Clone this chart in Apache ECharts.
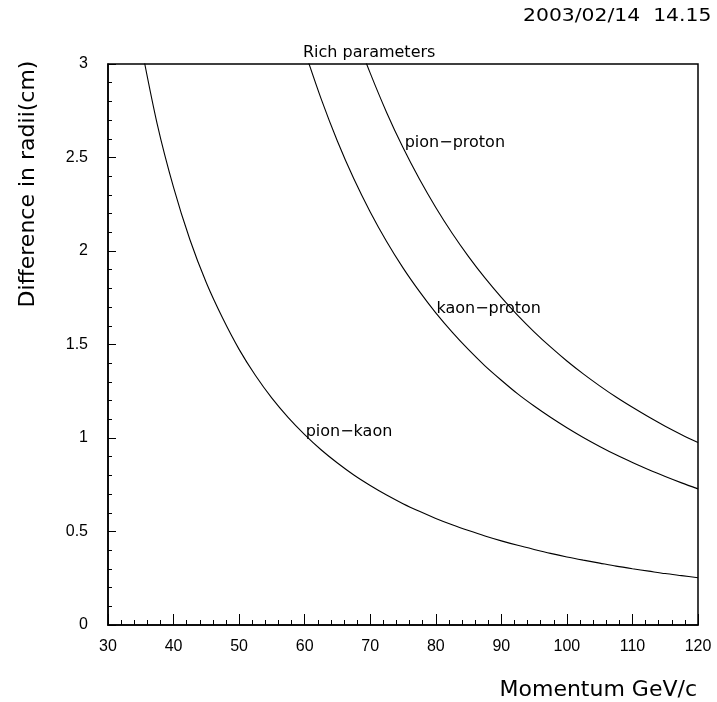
<!DOCTYPE html>
<html>
<head>
<meta charset="utf-8">
<script src="https://cdn.jsdelivr.net/npm/echarts@6/dist/echarts.min.js"></script>
<style>
  html, body { margin: 0; padding: 0; background: #fff; }
  #myChart { width: 717px; height: 702px; }
</style>
</head>
<body>
<div id="myChart"></div>
<script>
// momentum (GeV/c) and radius difference (cm)
// first point of each curve sits just above 3 and is clipped by the frame
const pionKaonP = [35, 37.5, 40, 42.5, 45, 47.5, 50, 52.5, 55, 57.5, 60, 62.5, 65, 67.5, 70, 72.5, 75, 77.5, 80,
  82.5, 85, 87.5, 90, 92.5, 95, 97.5, 100, 102.5, 105, 107.5, 110, 112.5, 115, 117.5, 120]
const pionKaonR = [3.11, 2.68, 2.34, 2.06, 1.83, 1.64, 1.474, 1.334, 1.213, 1.109, 1.018, 0.937, 0.866, 0.802, 0.746, 0.695, 0.649, 0.608, 0.570,
  0.536, 0.505, 0.476, 0.450, 0.426, 0.404, 0.383, 0.364, 0.347, 0.331, 0.315, 0.301, 0.288, 0.275, 0.264, 0.253]

const kaonProtonP = [60, 62.5, 65, 67.5, 70, 72.5, 75, 77.5, 80, 82.5, 85, 87.5, 90, 92.5, 95, 97.5, 100,
  102.5, 105, 107.5, 110, 112.5, 115, 117.5, 120]
const kaonProtonR = [3.07, 2.815, 2.587, 2.386, 2.209, 2.051, 1.910, 1.784, 1.669, 1.566, 1.472, 1.386, 1.309, 1.236, 1.171, 1.111, 1.055,
  1.003, 0.955, 0.910, 0.869, 0.830, 0.794, 0.760, 0.728]

const pionProtonP = [67.5, 70, 72.5, 75, 77.5, 80, 82.5, 85, 87.5, 90, 92.5, 95, 97.5, 100,
  102.5, 105, 107.5, 110, 112.5, 115, 117.5, 120]
const pionProtonR = [3.18, 2.951, 2.741, 2.553, 2.385, 2.233, 2.095, 1.970, 1.856, 1.752, 1.656, 1.568, 1.487, 1.412,
  1.343, 1.279, 1.219, 1.164, 1.112, 1.063, 1.018, 0.976]

// curve labels: [momentum, radius]
const labelPionKaon = [60.15, 1.033]
const labelKaonProton = [80.1, 1.689]
const labelPionProton = [75.26, 2.577]

const zip = (xs, ys) => xs.map((x, i) => [x, ys[i]])

const textFont = 'DejaVu Sans'
const tickFont = 'Liberation Sans'

function curve (name, xs, ys, at) {
  return {
    name: name,
    type: 'line',
    data: zip(xs, ys),
    showSymbol: false,
    smooth: 0.3,
    clip: true,
    silent: true,
    lineStyle: { color: '#000', width: 1.1 },
    markPoint: {
      symbol: 'circle',
      symbolSize: 0,
      silent: true,
      data: [{ coord: at }],
      label: {
        show: true,
        position: 'right',
        distance: 0,
        formatter: name,
        color: '#000',
        fontFamily: textFont,
        fontSize: 16
      }
    }
  }
}

let myChart = echarts.init(document.getElementById('myChart'))
myChart.setOption({
  backgroundColor: '#fff',
  animation: false,
  grid: {
    left: 108,
    top: 64,
    width: 590,
    height: 561,
    show: true,
    borderColor: '#000',
    borderWidth: 1.5,
    backgroundColor: 'transparent'
  },
  xAxis: {
    type: 'value',
    min: 30,
    max: 120,
    interval: 10,
    axisLine: { lineStyle: { color: '#000', width: 1.5 } },
    axisTick: { inside: true, length: 11, lineStyle: { color: '#000', width: 1 } },
    minorTick: { show: true, splitNumber: 5, length: 5, lineStyle: { color: '#000', width: 1 } },
    splitLine: { show: false },
    axisLabel: { color: '#000', fontFamily: tickFont, fontSize: 16, margin: 14 }
  },
  yAxis: {
    type: 'value',
    min: 0,
    max: 3,
    interval: 0.5,
    axisLine: { show: true, lineStyle: { color: '#000', width: 1.5 } },
    axisTick: { show: true, inside: true, length: 8, lineStyle: { color: '#000', width: 1 } },
    minorTick: { show: true, splitNumber: 5, length: 4, lineStyle: { color: '#000', width: 1 } },
    splitLine: { show: false },
    axisLabel: { color: '#000', fontFamily: tickFont, fontSize: 16, margin: 20 }
  },
  graphic: [
    {
      type: 'text',
      x: 523,
      y: 16,
      scaleX: 1.13,
      style: {
        text: '2003/02/14  14.15',
        fill: '#000',
        font: '18px ' + textFont,
        align: 'left',
        verticalAlign: 'middle'
      }
    },
    {
      type: 'text',
      left: 303,
      top: 45,
      style: { text: 'Rich parameters', fill: '#000', font: '16px ' + textFont }
    },
    {
      type: 'text',
      x: 28,
      y: 184,
      rotation: Math.PI / 2,
      style: {
        text: 'Difference in radii(cm)',
        fill: '#000',
        font: '22px ' + textFont,
        align: 'center',
        verticalAlign: 'middle'
      }
    },
    {
      type: 'text',
      x: 697,
      y: 690,
      style: {
        text: 'Momentum GeV/c',
        fill: '#000',
        font: '22px ' + textFont,
        align: 'right',
        verticalAlign: 'middle'
      }
    }
  ],
  series: [
    curve('pion−kaon', pionKaonP, pionKaonR, labelPionKaon),
    curve('kaon−proton', kaonProtonP, kaonProtonR, labelKaonProton),
    curve('pion−proton', pionProtonP, pionProtonR, labelPionProton)
  ]
})
</script>
</body>
</html>
